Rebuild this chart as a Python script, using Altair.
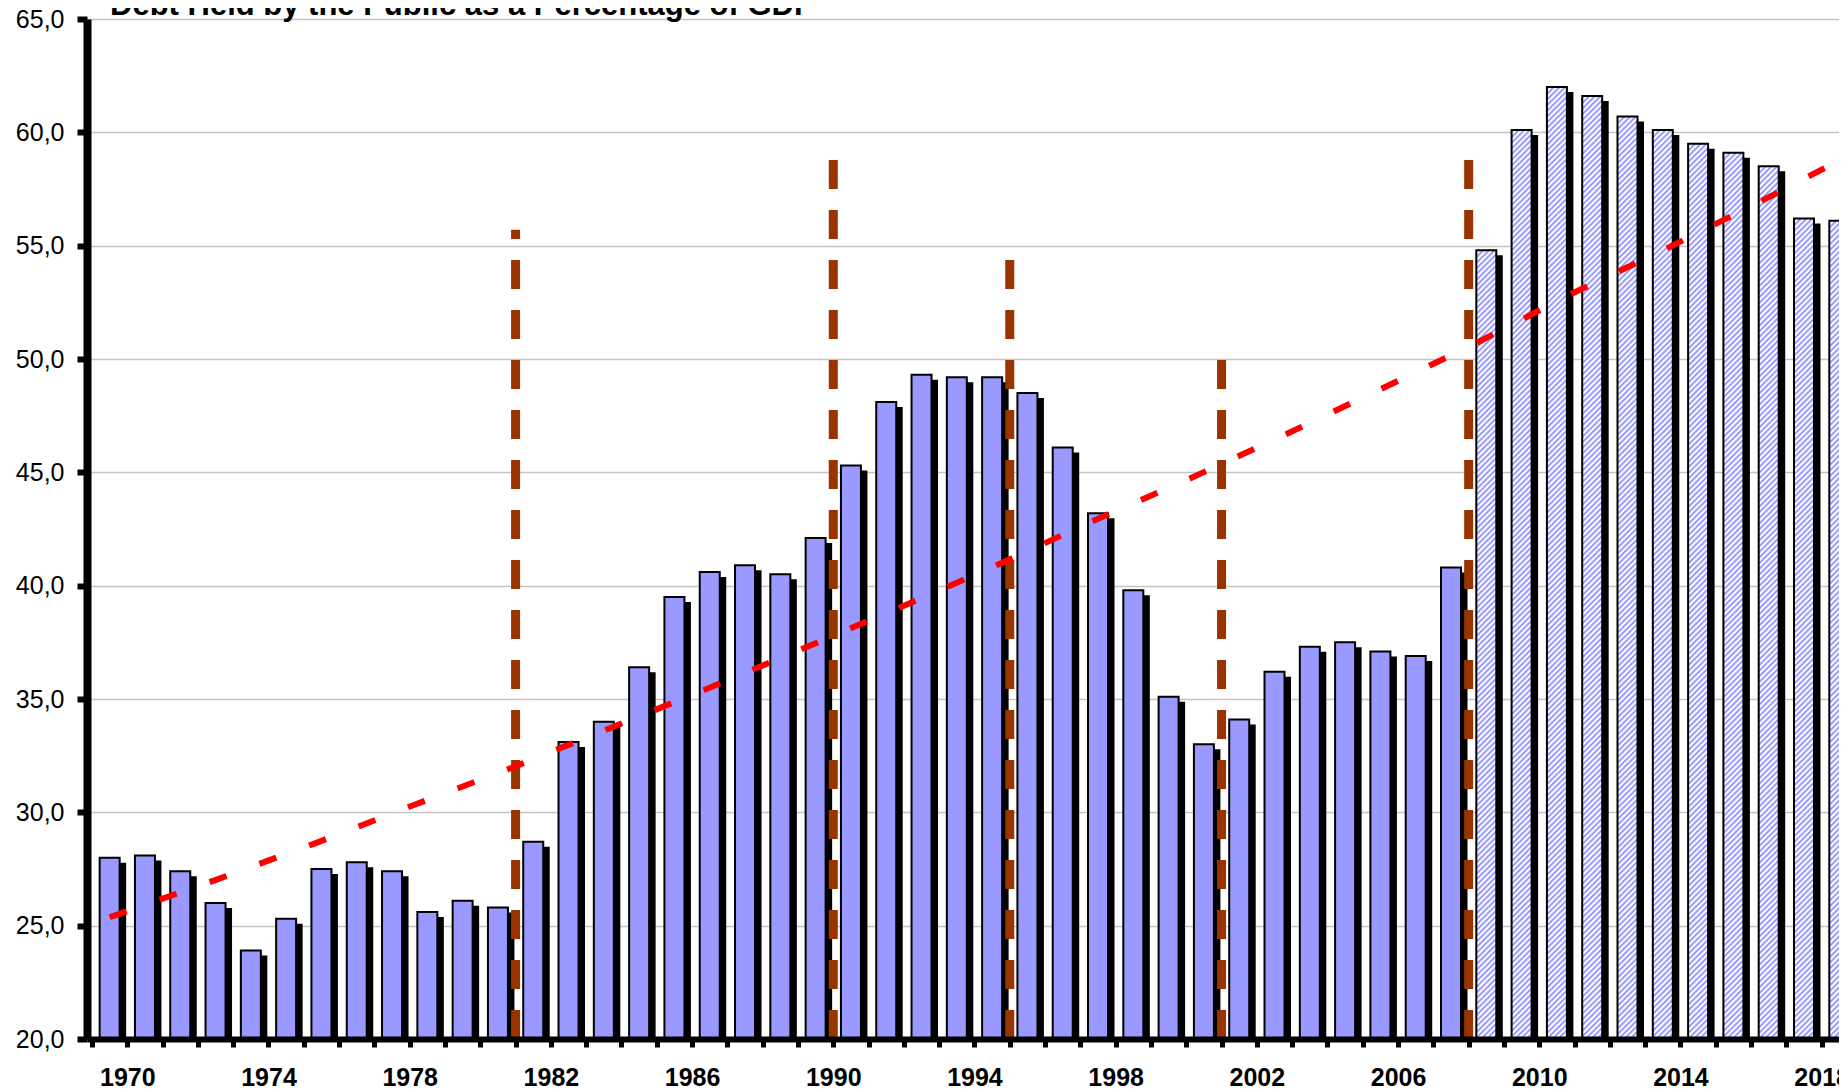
import urllib.parse
import altair as alt
import pandas as pd

# ---------------- data ----------------
years = list(range(1970, 2020))
debt = [28.0, 28.1, 27.4, 26.0, 23.9, 25.3, 27.5, 27.8, 27.4, 25.6,
        26.1, 25.8, 28.7, 33.1, 34.0, 36.4, 39.5, 40.6, 40.9, 40.5,
        42.1, 45.3, 48.1, 49.3, 49.2, 49.2, 48.5, 46.1, 43.2, 39.8,
        35.1, 33.0, 34.1, 36.2, 37.3, 37.5, 37.1, 36.9, 40.8, 54.8,
        60.1, 62.0, 61.6, 60.7, 60.1, 59.5, 59.1, 58.5, 56.2, 56.1]
first_projected_year = 2009

trend_years = [1970.0, 1973.03, 1975.80, 1978.58, 1981.32, 1984.12, 1986.91,
               1989.68, 1992.42, 1995.17, 1997.94, 2000.62, 2003.37, 2006.06,
               2008.69, 2011.36, 2014.00, 2016.68, 2019.60]
trend_values = [25.37, 27.03, 28.62, 30.30, 31.92, 33.68, 35.44,
                37.25, 39.06, 40.93, 42.91, 44.74, 46.71, 48.71,
                50.68, 52.84, 54.79, 56.88, 59.25]

marker_years = [1981.5, 1990.5, 1995.5, 2001.5, 2008.5]
marker_tops = [55.7, 59.0, 54.5, 50.1, 59.1]
marker_base = [20.0, 20.0, 20.0, 20.0, 20.0]

y_ticks = [20, 25, 30, 35, 40, 45, 50, 55, 60, 65]
x_tick_positions = [y + 0.5 for y in range(1969, 2019)]
title_text = "Debt Held by the Public as a Percentage of GDP"

# ---------------- tables ----------------
bars = pd.DataFrame({"year": years, "debt": debt})
bars["base"] = 20.0
solid = bars[bars["year"] < first_projected_year]
proj = bars[bars["year"] >= first_projected_year]
trend = pd.DataFrame({"t": trend_years, "v": trend_values})
markers = pd.DataFrame({"x": marker_years, "top": marker_tops, "bottom": marker_base})
title_df = pd.DataFrame({"t": [title_text]})

# ---------------- geometry / style ----------------
W, H = 1752, 1020
X_DOMAIN = [1969.5, 2018.85]
PX = W / (X_DOMAIN[1] - X_DOMAIN[0])
HALF = 10 / PX
FONT = "Liberation Sans"

xscale = alt.Scale(domain=X_DOMAIN, nice=False, zero=False)
yscale = alt.Scale(domain=[20, 65], nice=False, zero=False)

hatch_svg = (
    "<svg xmlns='http://www.w3.org/2000/svg' width='100%' height='100%'>"
    "<defs><pattern id='h' width='4' height='4' patternUnits='userSpaceOnUse' "
    "patternTransform='rotate(45)'><rect width='2' height='4' fill='#9999FF'/></pattern></defs>"
    "<rect width='100%' height='100%' fill='#FFFFFF'/>"
    "<rect width='100%' height='100%' fill='url(#h)'/></svg>"
)
hatch_url = "data:image/svg+xml;charset=utf-8," + urllib.parse.quote(hatch_svg)

x_axis = alt.Axis(
    title="", values=x_tick_positions, grid=False,
    labelExpr="(datum.value - 1970.5) % 4 == 0 ? format(datum.value - 0.5, 'd') : ''",
    labelFont=FONT, labelFontSize=25, labelFontWeight="bold", labelColor="black",
    labelOverlap=False, labelFlush=False, labelPadding=18,
    domainColor="black", domainWidth=6, tickColor="black", tickWidth=5, tickSize=8,
    zindex=1,
)
y_axis = alt.Axis(
    title="", values=y_ticks, grid=True, gridColor="#C4C4C4", gridWidth=1.3,
    labelExpr="replace(format(datum.value, '.1f'), '.', ',')",
    labelFont=FONT, labelFontSize=25, labelColor="black", labelPadding=13,
    domainColor="black", domainWidth=8, tickColor="black", tickWidth=6, tickSize=10,
    zindex=0,
)


def X(field):
    return alt.X(field, scale=xscale, axis=x_axis)


def Y(field):
    return alt.Y(field, scale=yscale, axis=y_axis)


shadow = alt.Chart(bars).mark_bar(
    color="black", width=22, xOffset=5.5, yOffset=5, y2Offset=5, clip=True
).encode(x=X("year:Q"), y=Y("debt:Q"), y2="base:Q")

solid_bars = alt.Chart(solid).mark_bar(
    fill="#9999FF", stroke="black", strokeWidth=2, width=20
).encode(x=X("year:Q"), y=Y("debt:Q"), y2="base:Q")

hatch = alt.Chart(proj).transform_calculate(
    xl=f"datum.year - {HALF}", xr=f"datum.year + {HALF}"
).mark_image(url=hatch_url, aspect=False).encode(
    x=X("xl:Q"), x2="xr:Q", y=Y("debt:Q"), y2="base:Q"
)

hatch_outline = alt.Chart(proj).mark_bar(
    fill="transparent", stroke="black", strokeWidth=2, width=20
).encode(x=X("year:Q"), y=Y("debt:Q"), y2="base:Q")

marker_rules = alt.Chart(markers).mark_rule(
    color="#993300", strokeWidth=9, strokeDash=[29, 21], strokeCap="butt"
).encode(x=X("x:Q"), y=Y("bottom:Q"), y2="top:Q")

trend_line = alt.Chart(trend).mark_line(
    color="#FF0000", strokeWidth=6, strokeDash=[18, 35], strokeCap="butt", clip=True
).encode(x=X("t:Q"), y=Y("v:Q"))

title_mark = alt.Chart(title_df).mark_text(
    align="left", baseline="alphabetic", font=FONT, fontSize=31,
    fontWeight="bold", color="black"
).encode(x=alt.value(23), y=alt.value(-4), text="t:N")

chart = alt.layer(
    shadow, solid_bars, hatch, hatch_outline, marker_rules, trend_line, title_mark
).properties(
    width=W, height=H,
    padding={"left": 79, "top": 11, "right": 0, "bottom": 52},
    autosize=alt.AutoSizeParams(type="none"),
).configure_view(stroke=None).configure(background="white")

chart.save("out.html", embed_options={"renderer": "svg", "actions": False})
